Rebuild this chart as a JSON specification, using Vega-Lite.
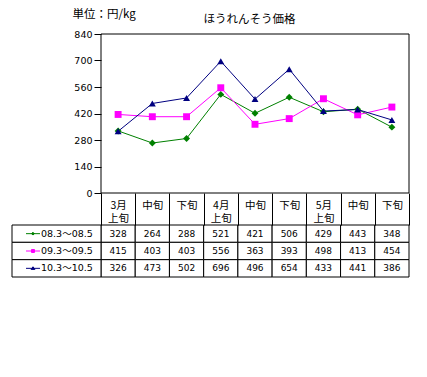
{
  "$schema": "https://vega.github.io/schema/vega-lite/v6.json",
  "width": 397,
  "height": 243,
  "autosize": {"type": "none"},
  "padding": {"left": 12, "top": 34, "right": 18, "bottom": 100},
  "datasets": {
    "prices": [
      {"period": "3月上旬", "series": "08.3～08.5", "value": 328},
      {"period": "3月中旬", "series": "08.3～08.5", "value": 264},
      {"period": "3月下旬", "series": "08.3～08.5", "value": 288},
      {"period": "4月上旬", "series": "08.3～08.5", "value": 521},
      {"period": "4月中旬", "series": "08.3～08.5", "value": 421},
      {"period": "4月下旬", "series": "08.3～08.5", "value": 506},
      {"period": "5月上旬", "series": "08.3～08.5", "value": 429},
      {"period": "5月中旬", "series": "08.3～08.5", "value": 443},
      {"period": "5月下旬", "series": "08.3～08.5", "value": 348},
      {"period": "3月上旬", "series": "09.3～09.5", "value": 415},
      {"period": "3月中旬", "series": "09.3～09.5", "value": 403},
      {"period": "3月下旬", "series": "09.3～09.5", "value": 403},
      {"period": "4月上旬", "series": "09.3～09.5", "value": 556},
      {"period": "4月中旬", "series": "09.3～09.5", "value": 363},
      {"period": "4月下旬", "series": "09.3～09.5", "value": 393},
      {"period": "5月上旬", "series": "09.3～09.5", "value": 498},
      {"period": "5月中旬", "series": "09.3～09.5", "value": 413},
      {"period": "5月下旬", "series": "09.3～09.5", "value": 454},
      {"period": "3月上旬", "series": "10.3～10.5", "value": 326},
      {"period": "3月中旬", "series": "10.3～10.5", "value": 473},
      {"period": "3月下旬", "series": "10.3～10.5", "value": 502},
      {"period": "4月上旬", "series": "10.3～10.5", "value": 696},
      {"period": "4月中旬", "series": "10.3～10.5", "value": 496},
      {"period": "4月下旬", "series": "10.3～10.5", "value": 654},
      {"period": "5月上旬", "series": "10.3～10.5", "value": 433},
      {"period": "5月中旬", "series": "10.3～10.5", "value": 441},
      {"period": "5月下旬", "series": "10.3～10.5", "value": 386}
    ],
    "series": [
      {"series": "08.3～08.5"},
      {"series": "09.3～09.5"},
      {"series": "10.3～10.5"}
    ]
  },
  "resolve": {"scale": {"x": "independent", "y": "independent", "shape": "independent"}, "axis": {"x": "independent", "y": "independent"}},
  "layer": [
    {
      "data": {"name": "prices"},
      "mark": {"type": "rect", "fill": "white", "stroke": "black", "strokeWidth": 1},
      "encoding": {
        "x": {
          "field": "period", "type": "nominal",
          "scale": {"type": "band", "domain": ["3月上旬", "3月中旬", "3月下旬", "4月上旬", "4月中旬", "4月下旬", "5月上旬", "5月中旬", "5月下旬"], "range": [89, 397], "paddingInner": 0, "paddingOuter": 0},
          "axis": {
            "orient": "bottom", "offset": -84, "title": null, "labelAngle": 0, "grid": false, "domain": false,
            "tickBand": "extent", "tickSize": 32, "labelPadding": -20,
            "labelBaseline": "middle", "labelAlign": "center",
            "labelExpr": "indexof(datum.label, '上旬') >= 0 ? [slice(datum.label, 0, 2), '上旬'] : slice(datum.label, 2)",
            "labelFont": "Noto Sans CJK JP", "labelFontSize": 10.5, "labelLineHeight": 13
          }
        },
        "y": {
          "field": "series", "type": "nominal",
          "scale": {"type": "band", "domain": ["08.3～08.5", "09.3～09.5", "10.3～10.5"], "range": [191, 243], "paddingInner": 0, "paddingOuter": 0},
          "axis": null
        }
      }
    },
    {
      "data": {"name": "prices"},
      "mark": {"type": "text", "font": "DejaVu Sans", "fontSize": 9, "baseline": "middle", "align": "center", "color": "black"},
      "encoding": {
        "x": {
          "field": "period", "type": "nominal",
          "scale": {"type": "band", "domain": ["3月上旬", "3月中旬", "3月下旬", "4月上旬", "4月中旬", "4月下旬", "5月上旬", "5月中旬", "5月下旬"], "range": [89, 397], "paddingInner": 0, "paddingOuter": 0},
          "axis": null
        },
        "y": {
          "field": "series", "type": "nominal",
          "scale": {"type": "band", "domain": ["08.3～08.5", "09.3～09.5", "10.3～10.5"], "range": [191, 243], "paddingInner": 0, "paddingOuter": 0},
          "axis": null
        },
        "text": {"field": "value", "type": "quantitative"}
      }
    },
    {
      "data": {"name": "series"},
      "mark": {"type": "rect", "fill": "white", "stroke": "black", "strokeWidth": 1},
      "encoding": {
        "x": {
          "datum": "legend", "type": "nominal",
          "scale": {"type": "band", "domain": ["legend"], "range": [0, 89], "paddingInner": 0, "paddingOuter": 0},
          "axis": null
        },
        "y": {
          "field": "series", "type": "nominal",
          "scale": {"type": "band", "domain": ["08.3～08.5", "09.3～09.5", "10.3～10.5"], "range": [191, 243], "paddingInner": 0, "paddingOuter": 0},
          "axis": null
        }
      }
    },
    {
      "data": {"name": "series"},
      "mark": {"type": "point", "filled": true, "opacity": 1, "strokeWidth": 1, "size": 196},
      "encoding": {
        "x": {
          "datum": "symbol", "type": "nominal",
          "scale": {"type": "point", "domain": ["symbol", "label"], "range": [17, 33]},
          "axis": null
        },
        "y": {
          "field": "series", "type": "nominal",
          "scale": {"type": "band", "domain": ["08.3～08.5", "09.3～09.5", "10.3～10.5"], "range": [191, 243], "paddingInner": 0, "paddingOuter": 0},
          "axis": null
        },
        "shape": {
          "field": "series", "type": "nominal",
          "scale": {"domain": ["08.3～08.5", "09.3～09.5", "10.3～10.5"], "range": ["M-1,0H1M0,-0.2L0.2,0L0,0.2L-0.2,0Z", "M-1,0H1M-0.21,-0.21H0.21V0.21H-0.21Z", "M-1,0H1M0,-0.22L0.27,0.15L-0.27,0.15Z"]},
          "legend": null
        },
        "fill": {
          "field": "series", "type": "nominal",
          "scale": {"domain": ["08.3～08.5", "09.3～09.5", "10.3～10.5"], "range": ["#008000", "#ff00ff", "#000080"]},
          "legend": null
        },
        "stroke": {
          "field": "series", "type": "nominal",
          "scale": {"domain": ["08.3～08.5", "09.3～09.5", "10.3～10.5"], "range": ["#008000", "#ff00ff", "#000080"]},
          "legend": null
        }
      }
    },
    {
      "data": {"name": "series"},
      "mark": {"type": "text", "align": "left", "baseline": "middle", "font": "DejaVu Sans, Noto Sans CJK JP", "fontSize": 9.5, "color": "black"},
      "encoding": {
        "x": {
          "datum": "label", "type": "nominal",
          "scale": {"type": "point", "domain": ["symbol", "label"], "range": [17, 33]},
          "axis": null
        },
        "y": {
          "field": "series", "type": "nominal",
          "scale": {"type": "band", "domain": ["08.3～08.5", "09.3～09.5", "10.3～10.5"], "range": [191, 243], "paddingInner": 0, "paddingOuter": 0},
          "axis": null
        },
        "text": {"field": "series"}
      }
    },
    {
      "data": {"values": [{"panel": "plot"}]},
      "mark": {"type": "rect", "fill": "transparent", "stroke": "black", "strokeWidth": 1},
      "encoding": {
        "x": {
          "field": "panel", "type": "nominal",
          "scale": {"type": "band", "domain": ["plot"], "range": [89, 397], "paddingInner": 0, "paddingOuter": 0},
          "axis": null
        },
        "y": {"datum": 0, "type": "quantitative", "scale": {"domain": [0, 840], "range": [159, 0], "nice": false, "zero": false}, "axis": null},
        "y2": {"datum": 840}
      }
    },
    {
      "data": {"name": "prices"},
      "mark": {"type": "line", "strokeWidth": 1},
      "encoding": {
        "x": {
          "field": "period", "type": "nominal",
          "scale": {"type": "point", "domain": ["3月上旬", "3月中旬", "3月下旬", "4月上旬", "4月中旬", "4月下旬", "5月上旬", "5月中旬", "5月下旬"], "range": [89, 397], "padding": 0.5},
          "axis": null
        },
        "y": {
          "field": "value", "type": "quantitative",
          "scale": {"domain": [0, 840], "range": [159, 0], "nice": false, "zero": false},
          "axis": {
            "orient": "left", "offset": -89,
            "values": [0, 140, 280, 420, 560, 700, 840],
            "grid": false, "domain": false, "tickSize": 7, "labelPadding": 2,
            "labelFont": "DejaVu Sans", "labelFontSize": 9.5,
            "labelFlush": false,
            "title": "単位：円/kg", "titleAngle": 0, "titleAlign": "left", "titleBaseline": "middle",
            "titleX": -29, "titleY": -20, "titleFont": "Noto Sans CJK JP", "titleFontSize": 11.5, "titleFontWeight": "normal"
          }
        },
        "color": {
          "field": "series", "type": "nominal",
          "scale": {"domain": ["08.3～08.5", "09.3～09.5", "10.3～10.5"], "range": ["#008000", "#ff00ff", "#000080"]},
          "legend": null
        },
        "order": {"value": null}
      }
    },
    {
      "data": {"name": "prices"},
      "mark": {"type": "point", "filled": true, "opacity": 1, "size": 48},
      "encoding": {
        "x": {
          "field": "period", "type": "nominal",
          "scale": {"type": "point", "domain": ["3月上旬", "3月中旬", "3月下旬", "4月上旬", "4月中旬", "4月下旬", "5月上旬", "5月中旬", "5月下旬"], "range": [89, 397], "padding": 0.5},
          "axis": null
        },
        "y": {
          "field": "value", "type": "quantitative",
          "scale": {"domain": [0, 840], "range": [159, 0], "nice": false, "zero": false},
          "axis": {
            "orient": "right", "labels": false, "ticks": false, "grid": false, "domain": false,
            "title": "ほうれんそう価格", "titleAngle": 0, "titleAlign": "center", "titleBaseline": "middle",
            "titleX": -160, "titleY": -14.5, "titleFont": "Noto Sans CJK JP", "titleFontSize": 11.5, "titleFontWeight": "normal"
          }
        },
        "color": {
          "field": "series", "type": "nominal",
          "scale": {"domain": ["08.3～08.5", "09.3～09.5", "10.3～10.5"], "range": ["#008000", "#ff00ff", "#000080"]},
          "legend": null
        },
        "shape": {
          "field": "series", "type": "nominal",
          "scale": {"domain": ["08.3～08.5", "09.3～09.5", "10.3～10.5"], "range": ["diamond", "square", "triangle-up"]},
          "legend": null
        }
      }
    }
  ],
  "config": {
    "background": "white",
    "view": {"stroke": null},
    "axis": {"labelColor": "black", "tickColor": "black", "domainColor": "black", "titleColor": "black", "tickWidth": 1, "domainWidth": 1}
  }
}
